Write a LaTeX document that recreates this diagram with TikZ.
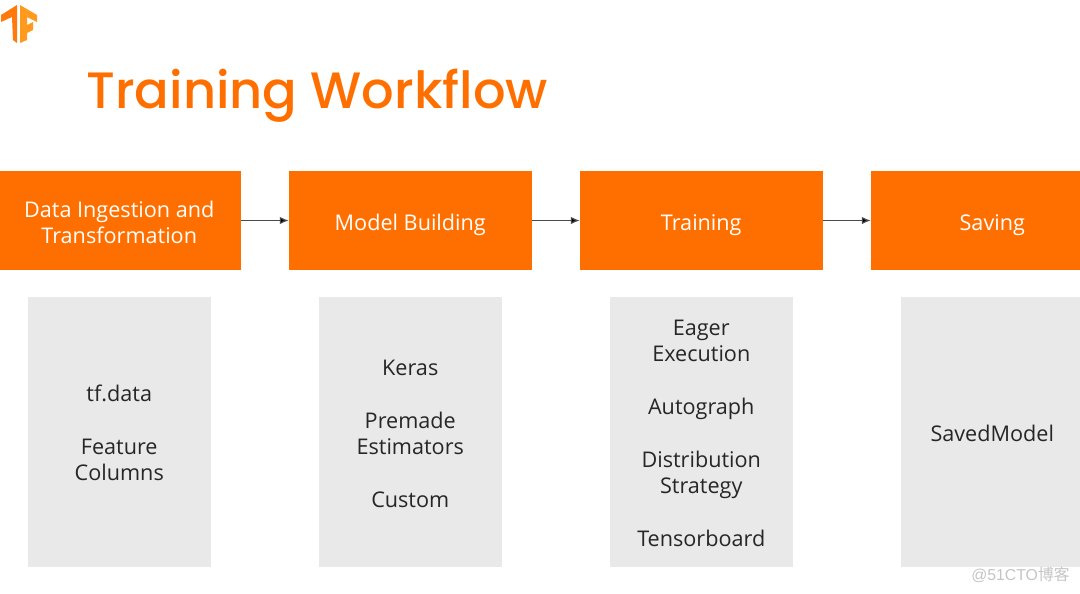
\documentclass[tikz,border=0pt]{standalone}
\usepackage{fontspec}
\usepackage{xcolor}
\usetikzlibrary{positioning,arrows.meta}
\setmainfont{Open Sans}
\newfontfamily\titlefont{Poppins}[UprightFont=* Medium]
\newfontfamily\markfont{Liberation Sans}
\newfontfamily\cjkfont{Noto Sans CJK SC}
\definecolor{tforange}{HTML}{FF6F00}
\definecolor{tflogo}{HTML}{FF7A0A}
\definecolor{tflight}{HTML}{FF9A1F}
\definecolor{panelgray}{HTML}{E9E9E9}
\definecolor{arrowgray}{HTML}{4A4A4A}
\definecolor{markgray}{HTML}{C4C4C4}
\newcommand{\toprule}{\rule{0pt}{10.5pt}}
\tikzset{
	stagebox/.style={fill=tforange, text=white, minimum width=4.86cm, minimum height=1.98cm, align=center, font=\fontsize{12.3}{14.8}\selectfont, inner sep=0pt, outer sep=0pt},
	toolbox/.style={fill=panelgray, text=black!85, minimum width=3.66cm, minimum height=5.4cm, align=center, font=\fontsize{12.3}{14.8}\selectfont, inner sep=0pt, outer sep=0pt},
	flowarrow/.style={draw=arrowgray, -{Latex[length=0.18cm,width=0.15cm]}, line width=0.7pt}
}
\begin{document}
\begin{tikzpicture}[node distance=0.96cm]
	\useasboundingbox (0,0) rectangle (21.6,-11.86);
	\clip (0,0) rectangle (21.6,-11.86);

	% stages
	\node[stagebox] (ingest) at (2.385,-4.41) {\rule{0pt}{12pt}Data Ingestion and\\Transformation};
	\node[stagebox, text height=11pt, text depth=0pt] (build)[right=of ingest] {Model Building};
	\node[stagebox, text height=11pt, text depth=0pt] (train)[right=of build] {Training};
	\node[stagebox, text height=11pt, text depth=0pt] (save)[right=of train] {Saving};

	% tools
	\node[toolbox] (data)[below=0.54cm of ingest] {\toprule tf.data\\[0.54cm]Feature\\Columns};
	\node[toolbox] (keras)[below=0.54cm of build] {\toprule Keras\\[0.54cm]Premade\\Estimators\\[0.54cm]Custom};
	\node[toolbox] (eager)[below=0.54cm of train] {\toprule Eager\\Execution\\[0.54cm]Autograph\\[0.54cm]Distribution\\Strategy\\[0.54cm]Tensorboard};
	\node[toolbox, text height=10.5pt, text depth=0pt] (saved)[below=0.54cm of save] {SavedModel};

	\path[flowarrow]
		(ingest) edge (build)
		(build) edge (train)
		(train) edge (save)
	;

	\node[anchor=west, text=tforange, font=\titlefont\fontsize{29.1}{36}\selectfont, inner sep=0pt] (title) at (1.72,-1.92) {Training Workflow};

	% logo
	\fill[tflogo] (0.02,-0.3) -- (0.34,-0.1) -- (0.34,-0.86) -- (0.26,-0.8) -- (0.24,-0.34) -- (0.02,-0.44) -- cycle;
	\fill[tflight] (0.4,-0.1) -- (0.74,-0.3) -- (0.74,-0.44) -- (0.54,-0.34) -- (0.54,-0.5) -- (0.66,-0.44) -- (0.66,-0.6) -- (0.54,-0.66) -- (0.54,-0.8) -- (0.4,-0.86) -- cycle;

	\node[anchor=east, text=markgray, font=\markfont\fontsize{9}{11}\selectfont, inner sep=0pt] (mark) at (21.4,-11.49) {@51CTO{\cjkfont 博客}};
\end{tikzpicture}
\end{document}
